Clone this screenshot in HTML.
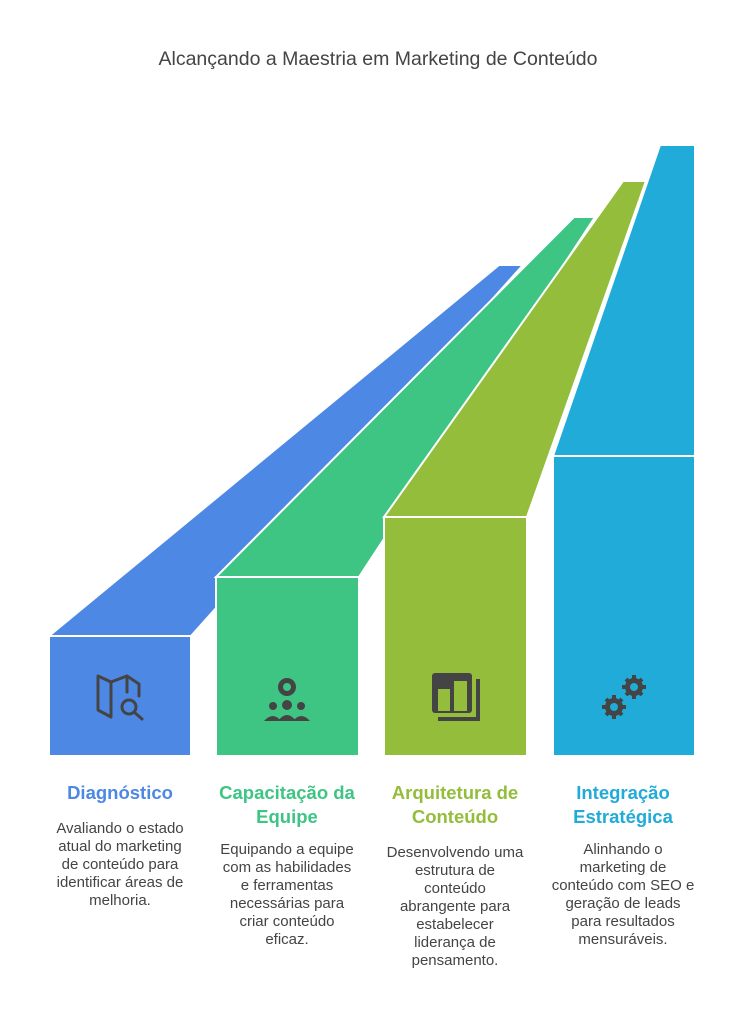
<!DOCTYPE html>
<html><head><meta charset="utf-8"><style>
body{margin:0;width:756px;height:1021px;background:#fff;position:relative;font-family:"Liberation Sans",sans-serif;overflow:hidden}
.t{position:absolute;left:0;width:756px;top:48px;text-align:center;font-size:19.5px;color:#444}
.h{position:absolute;width:180px;text-align:center;font-weight:bold;font-size:18.5px;line-height:24px}
.d{position:absolute;width:180px;text-align:center;font-size:15px;line-height:18px;color:#444}
</style></head><body>
<svg width="756" height="1021" style="position:absolute;left:0;top:0">
<g stroke="#fff" stroke-width="2" stroke-linejoin="miter">
<polygon points="49,636 191,636 523,265 499,265" fill="#4e88e5"/>
<rect x="49" y="636" width="142" height="120" fill="#4e88e5"/>
<polygon points="216,577 359,577 595,217 574,217" fill="#3ec584"/>
<rect x="216" y="577" width="143" height="179" fill="#3ec584"/>
<polygon points="384,517 527,517 646,181 623,181" fill="#93bd3b"/>
<rect x="384" y="517" width="143" height="239" fill="#93bd3b"/>
<polygon points="553,456 695,456 695,145 660,145" fill="#20abd9"/>
<rect x="553" y="456" width="142" height="300" fill="#20abd9"/>
</g>
<g fill="none" stroke="#444" stroke-width="3" stroke-linecap="round" stroke-linejoin="round">
<path d="M98,676 L98,710 L111,717 L111,682 Z M111,682 L127,676 L127,692 M127,676 L139,684 L139,696"/>
<circle cx="129" cy="707" r="7"/><path d="M134,712 L142,719"/>
</g>
<g fill="#444">
<circle cx="287" cy="687" r="9"/><circle cx="287" cy="687" r="4" fill="#3ec584"/>
<circle cx="273" cy="706" r="4"/><circle cx="287" cy="705" r="5"/><circle cx="301" cy="706" r="4"/>
<path d="M264,721 Q273,711 281,721 Z M278,721 Q287,709 296,721 Z M293,721 Q301,711 310,721 Z"/>
<rect x="432" y="673" width="40" height="40" rx="3"/>
<rect x="438" y="689" width="12" height="22" fill="#93bd3b"/>
<rect x="454" y="681" width="13" height="30" fill="#93bd3b"/>
<rect x="476" y="679" width="4" height="41"/><rect x="438" y="717" width="42" height="4"/>
<circle cx="634" cy="687" r="9"/><circle cx="614" cy="707" r="9"/>
</g>
<g stroke="#444" stroke-width="4">
<path d="M634,675V699M622,687H646M626,679L642,695M642,679L626,695"/>
<path d="M614,695V719M602,707H626M606,699L622,715M622,699L606,715"/>
</g>
<circle cx="634" cy="687" r="4" fill="#20abd9"/><circle cx="614" cy="707" r="4" fill="#20abd9"/>
</svg>
<div class="t">Alcançando a Maestria em Marketing de Conteúdo</div>
<div class="h" style="left:30px;top:781px;color:#4e88e5">Diagnóstico</div>
<div class="d" style="left:30px;top:820px">Avaliando o estado<br>atual do marketing<br>de conteúdo para<br>identificar áreas de<br>melhoria.</div>
<div class="h" style="left:197px;top:781px;color:#3ec584">Capacitação da<br>Equipe</div>
<div class="d" style="left:197px;top:841px">Equipando a equipe<br>com as habilidades<br>e ferramentas<br>necessárias para<br>criar conteúdo<br>eficaz.</div>
<div class="h" style="left:365px;top:781px;color:#93bd3b">Arquitetura de<br>Conteúdo</div>
<div class="d" style="left:365px;top:844px">Desenvolvendo uma<br>estrutura de<br>conteúdo<br>abrangente para<br>estabelecer<br>liderança de<br>pensamento.</div>
<div class="h" style="left:533px;top:781px;color:#20abd9">Integração<br>Estratégica</div>
<div class="d" style="left:533px;top:841px">Alinhando o<br>marketing de<br>conteúdo com SEO e<br>geração de leads<br>para resultados<br>mensuráveis.</div>
</body></html>
